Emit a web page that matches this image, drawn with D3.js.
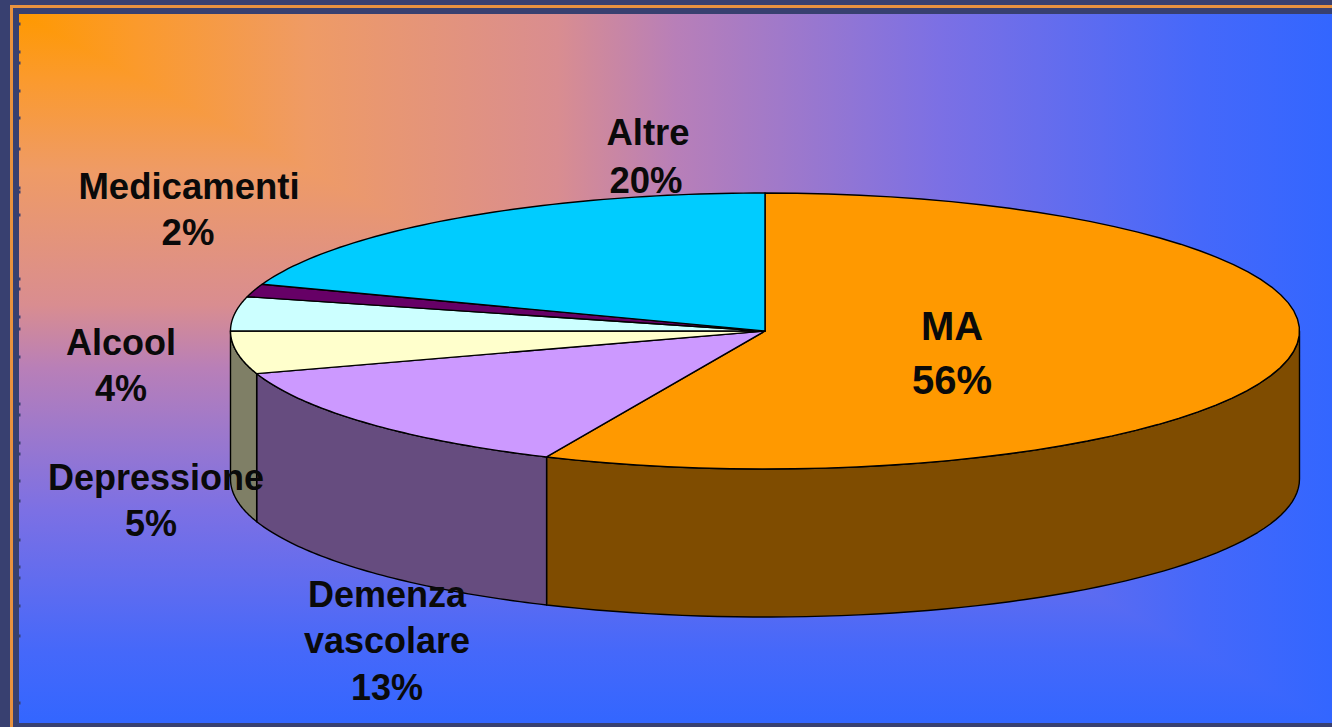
<!DOCTYPE html>
<html><head><meta charset="utf-8">
<script src="https://cdnjs.cloudflare.com/ajax/libs/d3/7.8.5/d3.min.js"></script>
<style>html,body{margin:0;padding:0;background:#384070;overflow:hidden}svg{display:block}</style>
</head><body><svg id="c" width="1332" height="727"></svg>
<script>
const categories = ["MA","Demenza vascolare","Depressione","Alcool","Medicamenti","Altre"];
const values = [56.7,13.3,5,4,1.5,19.5];
const percentLabels = ["56%","13%","5%","4%","2%","20%"];
const labelLines = [["MA"],["Demenza","vascolare"],["Depressione"],["Alcool"],["Medicamenti"],["Altre"]];

// styling and layout, separate from the data
const topColors = ["#FF9900","#CC99FF","#FFFFCC","#CCFFFF","#660066","#00CCFF"];
const sideColors = ["#7F4C00","#664C7F","#7F7F66","#667F7F","#330033","#00667F"];
const labelX = [[952,952],[387,387,387],[156,151],[121,121],[189,188],[648,646]];
const labelBase = [[340,393.5],[606.5,653,699.5],[489.75,536.25],[354.75,401.25],[198.75,245.25],[145,192.5]];
const labelSize = [40,36,36,36,36.5,36.5];
const edgeTicks = [24,52,63,91,118,149,188,192,215,279,289,317,329,357,404,415,443,454,481,501,540,567,578,606,636,703];
const gradientStops = [[0,"#FF9900"],[0.09,"#FB9A2C"],[0.22,"#EF9B65"],[0.41,"#D98D90"],[0.5,"#B87FB8"],[0.7,"#7C70E4"],[0.9,"#4568FA"],[1,"#3366FF"]];
const ink = "#384070";

const svg = d3.select("#c");
const W=1332,H=727;
const px0=19,py0=14,px1=W,py1=723;
const defs = svg.append("defs");
[["gh",px1,py0],["gv",px0,py1]].forEach(([id,x2,y2])=>{
  const gr=defs.append("linearGradient").attr("id",id).attr("gradientUnits","userSpaceOnUse")
    .attr("x1",px0).attr("y1",py0).attr("x2",x2).attr("y2",y2);
  gradientStops.forEach(([o,c])=>gr.append("stop").attr("offset",o).attr("stop-color",c));
});

svg.append("rect").attr("width",W).attr("height",H).attr("fill",ink);
svg.append("path").attr("d","M11.5,727V6.5H1332").attr("fill","none").attr("stroke","#E8923F").attr("stroke-width",3);
// corner gradient: horizontal bands fill the panel, vertical bands laid over the upper-right triangle
svg.append("rect").attr("x",px0).attr("y",py0).attr("width",px1-px0).attr("height",py1-py0).attr("fill","url(#gv)");
svg.append("path").attr("d",d3.line()([[px0,py0],[px1,py0],[px1,py1]])+"Z").attr("fill","url(#gh)");
svg.selectAll(".t").data(edgeTicks).join("rect").attr("class","t").attr("x",19).attr("y",d=>d-1.5).attr("width",1.5).attr("height",3).attr("fill",ink);

const x = d3.scaleLinear().domain([-1,1]).range([230.5,1299.5]);
const y = d3.scaleLinear().domain([-1,1]).range([193,469]);
const depth = 148;
const arcs = d3.pie().sort(null).value(d=>d)(values);
const pt = (a,dy=0)=>[x(Math.sin(a)),y(-Math.cos(a))+dy];
const line = d3.line();
const samples=(a0,a1,dy=0)=>d3.range(0,61).map(i=>pt(a0+(a1-a0)*i/60,dy));
const g = svg.append("g").attr("stroke","#000").attr("stroke-width",1.4).attr("stroke-linejoin","round");

arcs.forEach((d,i)=>{
  const a0=Math.max(d.startAngle,Math.PI/2), a1=Math.min(d.endAngle,3*Math.PI/2);
  if(a1<=a0) return;
  const p=samples(a0,a1).concat(samples(a1,a0,depth));
  g.append("path").attr("d",line(p)+"Z").attr("fill",sideColors[i]);
});
arcs.forEach((d,i)=>{
  const c=[x(0),y(0)];
  g.append("path").attr("d",line([c,...samples(d.startAngle,d.endAngle)])+"Z").attr("fill",topColors[i]);
});

const text = svg.append("g").attr("font-family","'Liberation Sans',Arial,sans-serif").attr("font-weight","bold")
  .attr("text-anchor","middle").attr("fill","#0a0a0a");
categories.forEach((c,i)=>{
  const te=text.append("text").attr("font-size",labelSize[i]);
  [...labelLines[i],percentLabels[i]].forEach((s,j)=>
    te.append("tspan").attr("x",labelX[i][j]).attr("y",labelBase[i][j]).text(s));
});
</script></body></html>
